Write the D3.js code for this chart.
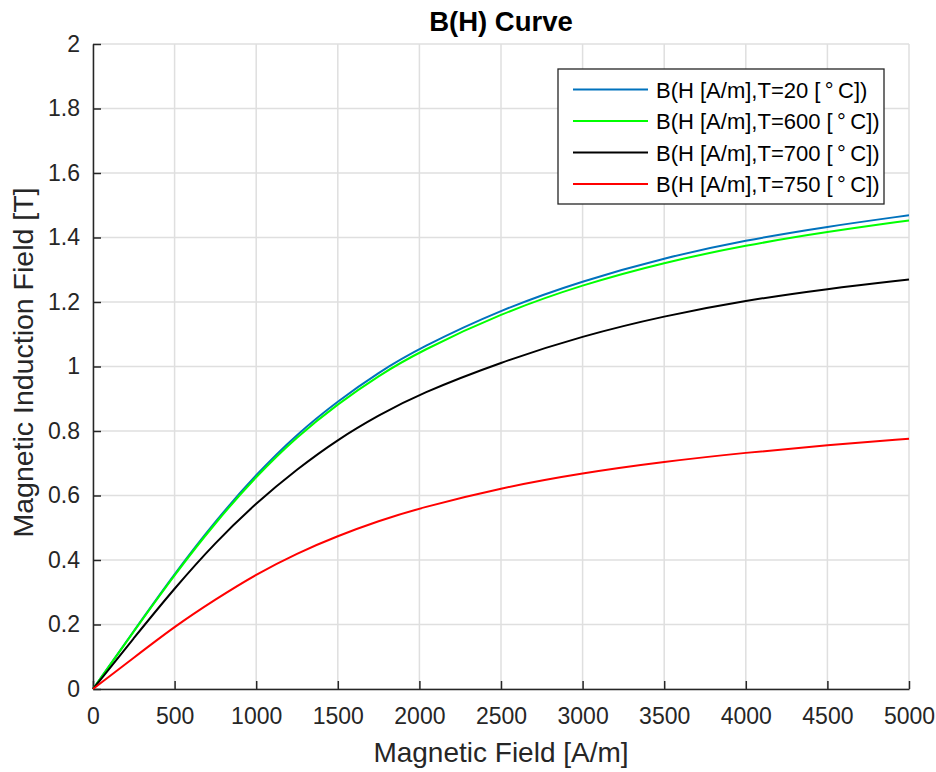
<!DOCTYPE html>
<html><head><meta charset="utf-8">
<script src="https://cdn.jsdelivr.net/npm/d3@7"></script>
<style>body{margin:0;background:#fff}svg{display:block;font-family:"Liberation Sans",Arial,Helvetica,sans-serif}</style>
</head><body>
<svg id="c" width="936" height="772"></svg>
<script>
const H = [0, 250, 500, 750, 1000, 1250, 1500, 1750, 2000, 2500, 3000, 3500, 4000, 4500, 5000];
const B20  = [0, 0.180, 0.358, 0.521, 0.666, 0.791, 0.893, 0.982, 1.057, 1.177, 1.266, 1.337, 1.392, 1.434, 1.469];
const B600 = [0, 0.179, 0.355, 0.516, 0.660, 0.783, 0.884, 0.972, 1.046, 1.165, 1.254, 1.323, 1.376, 1.418, 1.453];
const B700 = [0, 0.158, 0.313, 0.455, 0.577, 0.682, 0.774, 0.849, 0.915, 1.014, 1.095, 1.157, 1.205, 1.241, 1.270];
const B750 = [0, 0.097, 0.194, 0.278, 0.356, 0.421, 0.475, 0.521, 0.561, 0.624, 0.670, 0.705, 0.733, 0.756, 0.776];
const seriesNames = ["B(H [A/m],T=20 [\u2009\u00B0\u2009C])", "B(H [A/m],T=600 [\u2009\u00B0\u2009C])", "B(H [A/m],T=700 [\u2009\u00B0\u2009C])", "B(H [A/m],T=750 [\u2009\u00B0\u2009C])"];
const seriesColors = ["#0072BD", "#00FF00", "#000000", "#FF0000"];
const xTicks = [0, 500, 1000, 1500, 2000, 2500, 3000, 3500, 4000, 4500, 5000];
const yTicks = [0, 0.2, 0.4, 0.6, 0.8, 1, 1.2, 1.4, 1.6, 1.8, 2];
const title = "B(H) Curve", xLabel = "Magnetic Field [A/m]", yLabel = "Magnetic Induction Field [T]";

const svg = d3.select("#c");
const L = 93, R = 909, T = 44, Bt = 689;
const x = d3.scaleLinear().domain([0, 5000]).range([L, R]);
const y = d3.scaleLinear().domain([0, 2]).range([Bt, T]);
const txt = "#262626";

// grid
const g = svg.append("g");
g.selectAll(".gx").data(xTicks).join("line").attr("x1", d => x(d)).attr("x2", d => x(d)).attr("y1", T).attr("y2", Bt)
  .attr("stroke", "#dfdfdf").attr("stroke-width", 1.5);
g.selectAll(".gy").data(yTicks).join("line").attr("y1", d => y(d)).attr("y2", d => y(d)).attr("x1", L).attr("x2", R)
  .attr("stroke", "#dfdfdf").attr("stroke-width", 1.5);

// axes
const xa = svg.append("g").attr("transform", `translate(0,${Bt})`)
  .call(d3.axisBottom(x).tickValues(xTicks).tickSizeInner(-8).tickSizeOuter(0).tickPadding(19).tickFormat(d3.format("d")));
const ya = svg.append("g").attr("transform", `translate(${L},0)`)
  .call(d3.axisLeft(y).tickValues(yTicks).tickSizeInner(-8).tickSizeOuter(0).tickPadding(13).tickFormat(d => d3.format("")(+d.toFixed(1))));
[xa, ya].forEach(a => {
  a.select(".domain").attr("stroke", txt).attr("stroke-width", 1.5);
  a.selectAll(".tick line").attr("stroke", txt).attr("stroke-width", 1.5);
  a.selectAll(".tick text").attr("fill", txt).attr("font-size", 23).attr("font-family", '"Liberation Sans",Arial,sans-serif');
});

// lines
const data = [B20, B600, B700, B750];
const line = d3.line().x((d, i) => x(H[i])).y(d => y(d)).curve(d3.curveBasis);
data.forEach((s, k) => {
  svg.append("path").datum(s).attr("d", line).attr("fill", "none").attr("stroke", seriesColors[k]).attr("stroke-width", 2);
});

// title & labels
svg.append("text").attr("x", (L + R) / 2).attr("y", 31).attr("text-anchor", "middle").attr("font-weight", "bold")
  .attr("font-size", 27.5).attr("fill", "#000").text(title);
svg.append("text").attr("x", (L + R) / 2).attr("y", 762).attr("text-anchor", "middle")
  .attr("font-size", 28).attr("fill", txt).text(xLabel);
svg.append("text").attr("transform", `translate(33,${(T + Bt) / 2 - 4}) rotate(-90)`).attr("text-anchor", "middle")
  .attr("font-size", 28.5).attr("fill", txt).text(yLabel);

// legend
const lg = svg.append("g");
lg.append("rect").attr("x", 558).attr("y", 69).attr("width", 326).attr("height", 135).attr("fill", "#fff")
  .attr("stroke", txt).attr("stroke-width", 1.3);
seriesNames.forEach((n, k) => {
  const cy = 89.5 + k * 31.5;
  lg.append("line").attr("x1", 573).attr("x2", 648).attr("y1", cy).attr("y2", cy).attr("stroke", seriesColors[k]).attr("stroke-width", 2);
  lg.append("text").attr("x", 656).attr("y", cy + 8).attr("font-size", 22).attr("fill", "#000").text(n);
});
</script>
</body></html>
